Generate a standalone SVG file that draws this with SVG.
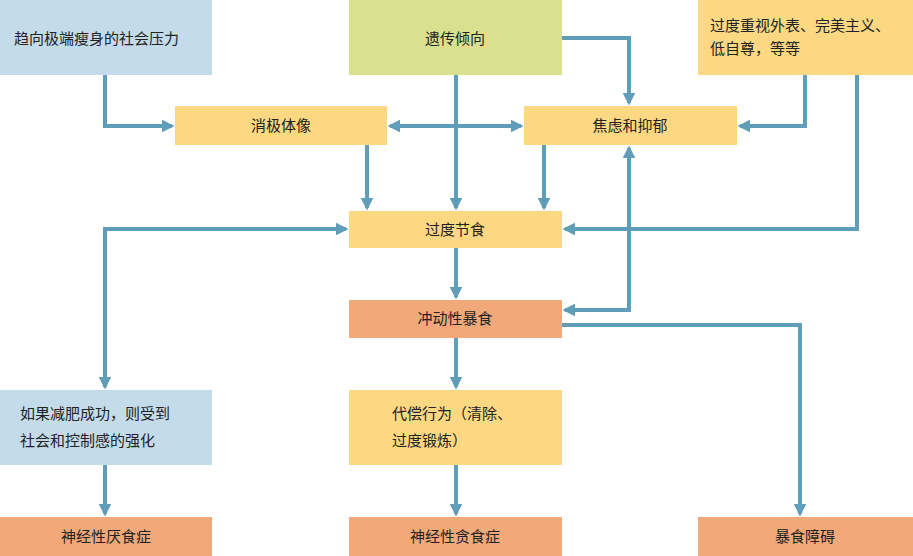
<svg xmlns="http://www.w3.org/2000/svg" width="913" height="556" viewBox="0 0 913 556">
<style>
text{font-family:"Noto Sans CJK SC","Noto Sans",sans-serif;font-size:15px;fill:#222}
.b{fill:#c4dcea}.g{fill:#d9e191}.y{fill:#fcd882}.o{fill:#f1a97a}
.c path{fill:none;stroke:#5f9db8;stroke-width:4}
</style>
<defs>
<marker id="a" viewBox="0 0 10 10" refX="8" refY="5" markerWidth="3.2" markerHeight="3.2" orient="auto-start-reverse"><path d="M0,0L10,5L0,10z" fill="#5f9db8"/></marker>
</defs>
<rect width="913" height="556" fill="#fff"/>
<g class="c">
<path d="M105,75V126H172" marker-end="url(#a)"/>
<path d="M562,38H629V103" marker-end="url(#a)"/>
<path d="M456,75V208" marker-end="url(#a)"/>
<path d="M805,75V126H740" marker-end="url(#a)"/>
<path d="M857,75V229H565" marker-end="url(#a)"/>
<path d="M390,126H521" marker-start="url(#a)" marker-end="url(#a)"/>
<path d="M367,145V208" marker-end="url(#a)"/>
<path d="M544,145V208" marker-end="url(#a)"/>
<path d="M565,310H629V148" marker-start="url(#a)" marker-end="url(#a)"/>
<path d="M346,229H105V387" marker-start="url(#a)" marker-end="url(#a)"/>
<path d="M456,248V297" marker-end="url(#a)"/>
<path d="M456,338V387" marker-end="url(#a)"/>
<path d="M562,325H800V514" marker-end="url(#a)"/>
<path d="M456,465V514" marker-end="url(#a)"/>
<path d="M105,465V514" marker-end="url(#a)"/>
</g>
<g id="n1"><rect class="b" x="0" y="0" width="212" height="75"/><text x="14" y="44">趋向极端瘦身的社会压力</text></g>
<g id="n2"><rect class="g" x="349" y="0" width="213" height="75"/><text x="455" y="44" text-anchor="middle">遗传倾向</text></g>
<g id="n3"><rect class="y" x="698" y="0" width="215" height="75"/><text x="710" y="31">过度重视外表、完美主义、</text><text x="710" y="54">低自尊，等等</text></g>
<g id="n4"><rect class="y" x="175" y="106" width="212" height="39"/><text x="281" y="131" text-anchor="middle">消极体像</text></g>
<g id="n5"><rect class="y" x="524" y="106" width="213" height="39"/><text x="630" y="131" text-anchor="middle">焦虑和抑郁</text></g>
<g id="n6"><rect class="y" x="349" y="211" width="213" height="37"/><text x="455" y="235" text-anchor="middle">过度节食</text></g>
<g id="n7"><rect class="o" x="349" y="300" width="213" height="38"/><text x="455" y="324" text-anchor="middle">冲动性暴食</text></g>
<g id="n8"><rect class="b" x="0" y="390" width="212" height="75"/><text x="20" y="419">如果减肥成功，则受到</text><text x="20" y="446">社会和控制感的强化</text></g>
<g id="n9"><rect class="y" x="349" y="390" width="213" height="75"/><text x="392" y="419">代偿行为（清除、</text><text x="392" y="446">过度锻炼）</text></g>
<g id="n10"><rect class="o" x="0" y="517" width="212" height="39"/><text x="106" y="542" text-anchor="middle">神经性厌食症</text></g>
<g id="n11"><rect class="o" x="349" y="517" width="213" height="39"/><text x="455" y="542" text-anchor="middle">神经性贪食症</text></g>
<g id="n12"><rect class="o" x="698" y="517" width="215" height="39"/><text x="805" y="542" text-anchor="middle">暴食障碍</text></g>
</svg>
